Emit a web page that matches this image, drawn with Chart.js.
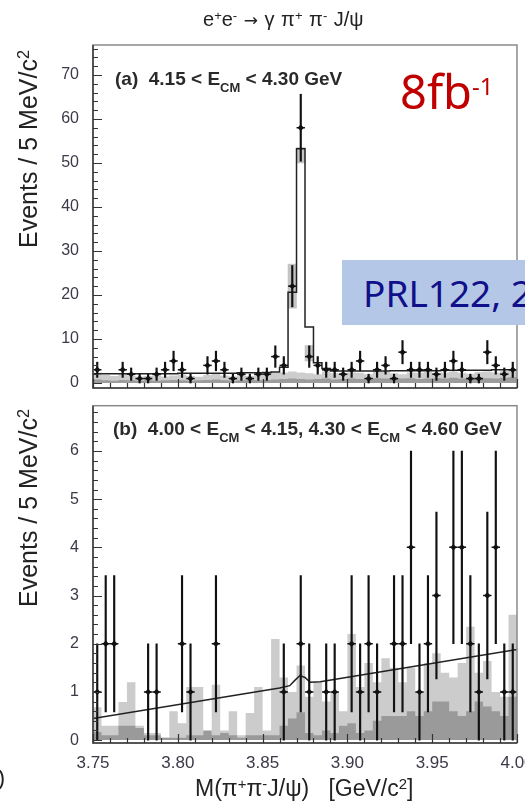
<!DOCTYPE html>
<html>
<head>
<meta charset="utf-8">
<script src="https://cdn.jsdelivr.net/npm/chart.js@4.4.1/dist/chart.umd.min.js"></script>
<style>
  html, body { margin: 0; padding: 0; background: #fff; }
  #page { position: relative; width: 525px; height: 806px; overflow: hidden;
          font-family: 'Liberation Sans', Arial, sans-serif; color: #222; }
  canvas { position: absolute; left: 0; }
  #chartA { top: 0; }
  #chartB { top: 400px; }
  .txt { position: absolute; white-space: nowrap; line-height: 1; }
  .txt sup { font-size: 0.65em; vertical-align: 0.5em; line-height: 0; }
  .arrow { font-family: 'DejaVu Sans', sans-serif; font-size: 17px; }
  .ytitle { font-size: 25px; transform-origin: left top; transform: rotate(-90deg); }
  .plabel { font-size: 19px; font-weight: bold; color: #2a2a2a; }
  .plabel sub { font-size: 13px; vertical-align: -7px; line-height: 0; }
  #lumi { left: 400px; top: 68px; font-family: 'Noto Sans', sans-serif; font-size: 47px; color: #c00000; }
  #lumi span { font-size: 24px; position: relative; top: -14px; }
  #ref { left: 342px; top: 260px; width: 183px; height: 65px; background: #b4c7e7; }
  #ref div { position: absolute; left: 21px; top: 14px; font-family: 'Noto Sans', sans-serif;
             font-size: 37px; color: #10108a; white-space: nowrap; line-height: 1; }
</style>
</head>
<body>
<div id="page">
  <canvas id="chartA" width="525" height="400"></canvas>
  <canvas id="chartB" width="525" height="406"></canvas>

  <div class="txt" style="left:203px; top:9px; font-size:20px; word-spacing:1px;">e<sup>+</sup>e<sup>-</sup> <span class="arrow">&rarr;</span> &gamma; &pi;<sup>+</sup> &pi;<sup>-</sup> J/&psi;</div>
  <div class="txt ytitle" style="left:16px; top:248px;">Events / 5 MeV/c<sup>2</sup></div>
  <div class="txt ytitle" style="left:16px; top:607px;">Events / 5 MeV/c<sup>2</sup></div>
  <div class="txt plabel" style="left:115px; top:69px;">(a)&nbsp; 4.15 &lt; E<sub>CM</sub> &lt; 4.30 GeV</div>
  <div class="txt plabel" style="left:113px; top:419px;">(b)&nbsp; 4.00 &lt; E<sub>CM</sub> &lt; 4.15, 4.30 &lt; E<sub>CM</sub> &lt; 4.60 GeV</div>
  <div class="txt" style="left:195px; top:777px; font-size:23px;">M(&pi;<sup>+</sup>&pi;<sup>-</sup>J/&psi;)&nbsp;&nbsp;&nbsp;[GeV/c<sup>2</sup>]</div>
  <div class="txt" id="lumi">8fb<span>-1</span></div>
  <div class="txt" id="ref"><div>PRL122, 2</div></div>
  <div class="txt" style="left:-2px; top:766px; font-family:'Noto Sans', sans-serif; font-size:22px;">)</div>
</div>

<script>
// binning: 5 MeV bins from 3.75 to 4.00 GeV
const binLow = 3.75;
const binWidth = 0.005;
const xTicks = [3.75, 3.80, 3.85, 3.90, 3.95, 4.00];
const yTicksA = [0, 10, 20, 30, 40, 50, 60, 70];
const yTicksB = [0, 1, 2, 3, 4, 5, 6];

// (a) 4.15 < Ecm < 4.30 GeV
const countsA = [3, 0, 0, 3, 2, 1, 1, 2, 3, 5,
                 3, 1, 0, 4, 5, 3, 1, 2, 1, 2,
                 2, 6, 4, 22, 58, 6, 4, 3, 3, 2,
                 3, 5, 1, 3, 4, 1, 7, 3, 3, 3,
                 2, 3, 5, 3, 1, 1, 7, 4, 2, 3];
const fitA = [2.1, 2.1, 2.1, 2.1, 2.1, 2.1, 2.1, 2.1, 2.1, 2.1,
              2.2, 2.2, 2.2, 2.2, 2.2, 2.2, 2.2, 2.3, 2.3, 2.3,
              2.4, 2.5, 3.6, 20.6, 53.2, 12.7, 4.6, 3.3, 2.7, 2.7,
              2.7, 2.7, 2.7, 2.7, 2.7, 2.8, 2.8, 2.8, 2.8, 2.8,
              2.8, 2.9, 2.9, 2.9, 2.9, 2.9, 2.9, 3.0, 3.0, 3.0];
const lightA = [2.3, 1.8, 1.6, 2.0, 1.7, 1.5, 1.6, 1.8, 1.5, 1.7,
                1.9, 1.6, 1.4, 1.8, 2.2, 1.7, 1.5, 1.9, 1.6, 2.0,
                2.1, 2.3, 2.4, 2.6, 2.4, 2.2, 2.0, 2.6, 2.2, 2.1,
                2.4, 2.3, 2.0, 2.7, 2.5, 2.2, 2.0, 2.4, 2.3, 2.5,
                2.2, 2.4, 2.6, 2.3, 2.1, 2.5, 2.6, 2.4, 2.7, 2.8];
const darkA = [0.8, 0.6, 0.5, 0.7, 0.6, 0.5, 0.6, 0.5, 0.6, 0.7,
               0.6, 0.5, 0.6, 0.7, 0.8, 0.6, 0.5, 0.6, 0.7, 0.6,
               0.7, 0.8, 0.9, 1.0, 0.9, 0.8, 0.9, 1.0, 0.8, 0.9,
               1.0, 0.9, 0.8, 1.1, 1.0, 0.9, 1.0, 1.1, 0.9, 1.0,
               1.1, 1.0, 1.2, 1.0, 1.1, 1.2, 1.1, 1.0, 1.2, 1.3];
const bandBinsA = [23, 24, 25];
const bandLowA = [17, 50, 5];
const bandHighA = [27, 53.5, 8.5];

// (b) 4.00 < Ecm < 4.15, 4.30 < Ecm < 4.60 GeV
const countsB = [1, 2, 2, 0, 0, 0, 1, 1, 0, 0,
                 2, 1, 0, 0, 2, 0, 0, 0, 0, 0,
                 0, 0, 1, 0, 2, 1, 0, 1, 1, 0,
                 2, 1, 2, 1, 0, 2, 2, 4, 1, 2,
                 3, 0, 4, 4, 2, 1, 3, 4, 1, 1];
const lightB = [0.68, 0.3, 0.3, 0.79, 1.2, 0.3, 0.15, 0.15, 0.05, 0.6,
                0.35, 1.1, 1.1, 0.1, 1.15, 0.2, 0.6, 0.1, 0.56, 1.1,
                0.2, 2.1, 1.3, 1.0, 1.55, 0.9, 1.2, 0.8, 1.0, 0.6,
                2.2, 1.1, 1.6, 1.2, 1.7, 1.5, 1.2, 1.5, 1.0, 1.6,
                1.8, 1.4, 1.3, 1.6, 2.35, 1.4, 1.64, 1.0, 0.9, 2.6];
const darkB = [0.17, 0.1, 0.1, 0.3, 0.3, 0.25, 0.1, 0.1, 0.05, 0.05,
               0.05, 0.1, 0.1, 0.2, 0.1, 0.15, 0.1, 0.05, 0.1, 0.1,
               0.1, 0.1, 0.3, 0.45, 0.58, 0.15, 0.1, 0.2, 0.15, 0.3,
               0.35, 0.15, 0.2, 0.4, 0.5, 0.5, 0.5, 0.6, 0.5, 0.6,
               0.8, 0.8, 0.6, 0.5, 0.6, 0.8, 0.7, 0.6, 0.5, 0.9];
const fitBX = [3.75, 3.860, 3.866, 3.869, 3.872, 3.875, 3.878, 3.884, 4.00];
const fitBY = [0.45, 1.08, 1.13, 1.24, 1.34, 1.30, 1.20, 1.21, 1.88];

const center = i => binLow + binWidth * (i + 0.5);

// histogram as step line through the bin low edges
function stepData(vals) {
    const pts = vals.map((v, i) => ({ x: binLow + binWidth * i, y: v }));
    pts.push({ x: binLow + binWidth * vals.length, y: vals[vals.length - 1] });
    return pts;
}
function pointData(counts) {
    return counts.map((n, i) => ({ x: center(i), y: n })).filter(p => p.y > 0);
}
function errorData(counts) {
    return counts.map((n, i) => ({ x: center(i), y: [n - Math.sqrt(n), n + Math.sqrt(n)] }))
                 .filter(p => p.y[1] > 0);
}

function histSet(vals, color, order) {
    return {
        type: 'line', data: stepData(vals), stepped: true, fill: 'origin',
        backgroundColor: color, borderWidth: 0, pointRadius: 0, order: order
    };
}
function dataSets(counts) {
    return [
        { type: 'line', data: pointData(counts), showLine: false, pointStyle: 'rectRot',
          pointRadius: 3.2, pointBackgroundColor: '#111', pointBorderWidth: 0, order: 0 },
        { type: 'line', data: pointData(counts), showLine: false, pointStyle: 'line',
          pointRadius: 4.2, pointBorderColor: '#111', pointBorderWidth: 1.5, order: 0 },
        { type: 'bar', data: errorData(counts), backgroundColor: '#111', borderWidth: 0,
          barThickness: 1.5, grouped: false, order: 1 }
    ];
}

// ROOT style frame with ticks pointing inwards
const rootFrame = {
    id: 'rootFrame',
    afterDatasetsDraw(chart, args, opts) {
        const { ctx, chartArea: a, scales: { x, y } } = chart;
        ctx.save();
        ctx.lineWidth = 1.5;
        ctx.strokeStyle = '#8a8a8a';
        ctx.strokeRect(a.left, a.top, a.right - a.left, a.bottom - a.top);
        ctx.strokeStyle = '#3c3c3c';
        ctx.beginPath();
        ctx.moveTo(a.left, a.top);
        ctx.lineTo(a.left, a.bottom);
        ctx.lineTo(a.right, a.bottom);
        ctx.stroke();

        ctx.lineWidth = 1.2;
        ctx.strokeStyle = '#333';
        ctx.beginPath();
        const nY = Math.floor(y.max / opts.yMinor + 1e-6);
        for (let k = 0; k <= nY; k++) {
            const v = k * opts.yMinor;
            const len = (k % opts.yPerMajor === 0) ? 9 : 5;
            const py = Math.round(y.getPixelForValue(v)) + 0.5;
            ctx.moveTo(a.left, py);
            ctx.lineTo(a.left + len, py);
        }
        for (let k = 0; k <= 25; k++) {
            const v = binLow + k * 0.01;
            const len = (k % 5 === 0) ? 9 : 5;
            const px = Math.round(x.getPixelForValue(v)) + 0.5;
            ctx.moveTo(px, a.bottom);
            ctx.lineTo(px, a.bottom - len);
        }
        ctx.stroke();
        ctx.restore();
    }
};

function makeChart(id, datasets, yMin, yMax, yTicks, opts) {
    return new Chart(document.getElementById(id), {
        type: 'bar',
        data: { datasets: datasets },
        options: {
            responsive: false,
            animation: false,
            layout: { padding: { left: 0, right: 8, top: opts.top, bottom: 0 } },
            plugins: {
                legend: { display: false },
                tooltip: { enabled: false },
                rootFrame: { yMinor: opts.yMinor, yPerMajor: opts.yPerMajor }
            },
            scales: {
                x: {
                    type: 'linear', min: 3.75, max: 4.00, offset: false,
                    grid: { display: false, offset: false },
                    border: { display: false },
                    afterBuildTicks: s => { s.ticks = xTicks.map(v => ({ value: v })); },
                    afterFit: s => { s.height = opts.xHeight; s.paddingLeft = 0; s.paddingRight = 0; },
                    ticks: {
                        display: opts.xLabels, autoSkip: false, maxRotation: 0, padding: 2,
                        color: '#3a3a48', font: { family: 'Liberation Sans', size: 17 },
                        callback: v => v.toFixed(2)
                    }
                },
                y: {
                    type: 'linear', min: yMin, max: yMax,
                    grid: { display: false },
                    border: { display: false },
                    afterBuildTicks: s => { s.ticks = yTicks.map(v => ({ value: v })); },
                    afterFit: s => { s.width = 93; s.paddingTop = 0; s.paddingBottom = 0; },
                    ticks: {
                        padding: 6, color: '#3a3a48',
                        font: { family: 'Liberation Sans', size: 16 }
                    }
                }
            }
        },
        plugins: [rootFrame]
    });
}

// panel (a)
const setsA = dataSets(countsA).concat([
    { type: 'line', data: stepData(fitA), stepped: true, fill: false,
      borderColor: '#222', borderWidth: 1.5, pointRadius: 0, order: 2 },
    { type: 'bar', data: bandBinsA.map((b, k) => ({ x: center(b), y: [bandLowA[k], bandHighA[k]] })),
      backgroundColor: '#c4c4c4', borderWidth: 0, grouped: false,
      categoryPercentage: 1, barPercentage: 1, order: 3 },
    histSet(darkA, '#9c9c9c', 4),
    histSet(lightA, '#cdcdcd', 5)
]);
makeChart('chartA', setsA, -1.14, 76.8, yTicksA,
          { top: 45, xHeight: 12, xLabels: false, yMinor: 2, yPerMajor: 5 });

// panel (b)
const setsB = dataSets(countsB).concat([
    { type: 'line', data: fitBX.map((xv, k) => ({ x: xv, y: fitBY[k] })), fill: false,
      borderColor: '#222', borderWidth: 1.5, pointRadius: 0, tension: 0, order: 2 },
    histSet(darkB, '#9a9a9a', 4),
    histSet(lightB, '#cccccc', 5)
]);
makeChart('chartB', setsB, -0.06, 6.94, yTicksB,
          { top: 2, xHeight: 63, xLabels: true, yMinor: 0.2, yPerMajor: 5 });
</script>
</body>
</html>
